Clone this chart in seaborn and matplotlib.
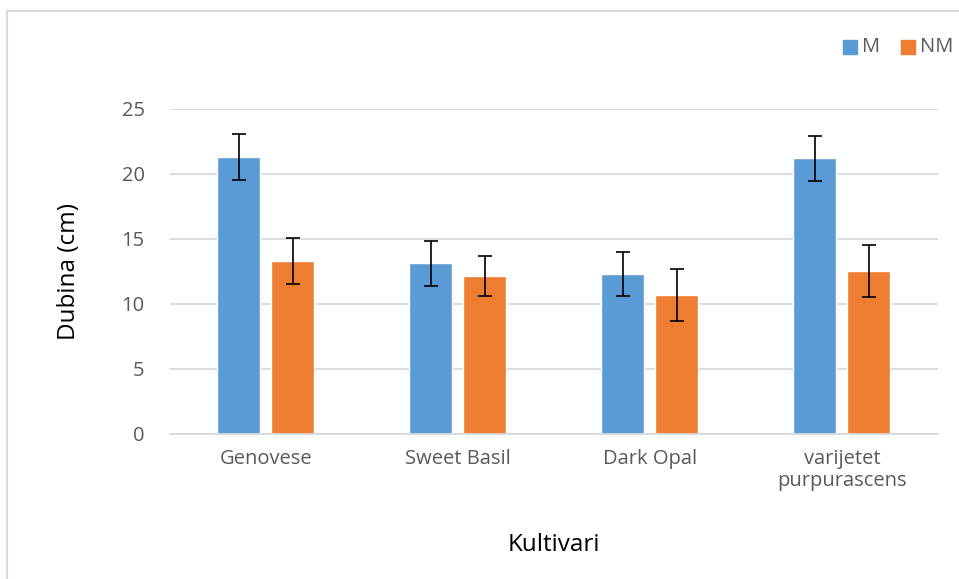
import pandas as pd
import matplotlib.pyplot as plt
import seaborn as sns
from matplotlib.patches import Rectangle

kultivari = ['Genovese', 'Sweet Basil', 'Dark Opal', 'varijetet\npurpurascens']
grupe = ['M', 'NM']
dubina_m = [21.3, 13.1, 12.3, 21.2]
dubina_nm = [13.3, 12.1, 10.7, 12.5]
greska_m = [1.76, 1.72, 1.72, 1.74]
greska_nm = [1.79, 1.54, 2.0, 2.0]

df = pd.DataFrame({
    'Kultivar': kultivari * 2,
    'Grupa': ['M'] * 4 + ['NM'] * 4,
    'Dubina': dubina_m + dubina_nm,
})

sns.set_style('white')
plt.rcParams['font.family'] = ['Open Sans', 'DejaVu Sans']

fig = plt.figure(figsize=(9.59, 5.79), dpi=100)
ax = fig.add_axes([0.177, 0.251, 0.801, 0.561])

boje = {'M': '#5b9bd5', 'NM': '#ed7d31'}
sns.barplot(data=df, x='Kultivar', y='Dubina', hue='Grupa', hue_order=grupe,
            order=kultivari, palette=boje, width=0.5625, gap=0.2,
            errorbar=None, legend=False, ax=ax, saturation=1)

# error bars na sredini stupaca
greske = greska_m + greska_nm
for bar, g in zip(ax.patches, greske):
    xc = bar.get_x() + bar.get_width() / 2
    ax.errorbar(xc, bar.get_height(), yerr=g, fmt='none', ecolor='black',
                elinewidth=1.2, capsize=5, capthick=1.2, zorder=5)

ax.set_ylim(0, 25)
ax.set_xlim(-0.5, 3.5)
ax.set_yticks(range(0, 26, 5))
ax.yaxis.grid(True, color='#d9d9d9', linewidth=1.3)
ax.set_axisbelow(True)
for s in ['top', 'right', 'left']:
    ax.spines[s].set_visible(False)
ax.spines['bottom'].set_color('#d9d9d9')
ax.spines['bottom'].set_linewidth(1.3)
ax.tick_params(axis='both', length=0, labelsize=14.5, labelcolor='#595959')
ax.tick_params(axis='y', pad=18)
ax.tick_params(axis='x', pad=11)
for t in ax.get_xticklabels():
    t.set_linespacing(1.15)

ax.set_ylabel('Dubina (cm)', fontsize=17.5, color='black', labelpad=29)
ax.set_xlabel('Kultivari', fontsize=17.5, color='black', labelpad=30)

# legenda
for i, g in enumerate(grupe):
    ax.scatter([], [], marker='s', s=110, color=boje[g], label=g)
ax.legend(loc='upper right', bbox_to_anchor=(1.038, 1.265), ncol=2, frameon=False,
          fontsize=14.5, handletextpad=-0.4, columnspacing=0.35,
          labelcolor='#595959', borderpad=0.2)

# okvir grafikona
fig.patches.append(Rectangle((7 / 959, -0.1), 1.2, 1 - 11 / 579 + 0.1,
                             transform=fig.transFigure, fill=False,
                             edgecolor='#d9d9d9', linewidth=1.5))

plt.savefig('out.png', dpi=100)
